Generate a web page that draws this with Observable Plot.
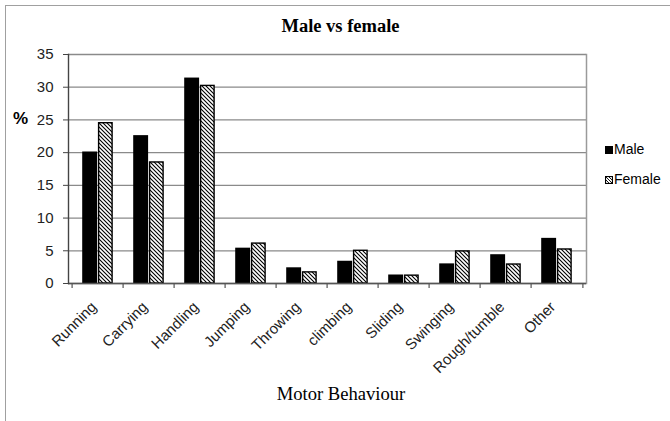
<!DOCTYPE html>
<html>
<head>
<meta charset="utf-8">
<script src="https://cdn.jsdelivr.net/npm/d3@7"></script>
<script src="https://cdn.jsdelivr.net/npm/@observablehq/plot@0.6"></script>
<style>
  html, body { margin: 0; padding: 0; background: #fff; }
  #wrap { position: relative; width: 670px; height: 421px; overflow: hidden; background: #fff; }
  #border { position: absolute; left: 5px; top: 5px; width: 720px; height: 520px; border: 1.5px solid #a0a0a0; box-sizing: border-box; }
  #chart { position: absolute; left: 0; top: 0; }
  .t { position: absolute; white-space: nowrap; color: #000; }
  #title { font-family: "Liberation Serif", "Times New Roman", serif; font-weight: bold; font-size: 18.5px; left: 0; width: 681px; text-align: center; top: 16px; }
  #ylab { font-family: "Liberation Sans", Arial, sans-serif; font-weight: bold; font-size: 17px; left: 13px; top: 109px; }
  #xlab { font-family: "Liberation Serif", "Times New Roman", serif; font-size: 18.6px; left: 0; width: 682px; text-align: center; top: 383px; }
  .leg { font-family: "Liberation Sans", Arial, sans-serif; font-size: 14px; left: 605px; display: flex; align-items: flex-end; }
  .sw { width: 8px; height: 8px; box-sizing: border-box; margin-bottom: 3px; margin-right: 1px; }
</style>
</head>
<body>
<div id="wrap">
  <div id="border"></div>
  <div id="chart"></div>
  <div class="t" id="title">Male vs female</div>
  <div class="t" id="ylab">%</div>
  <div class="t" id="xlab">Motor Behaviour</div>
  <div class="t leg" style="top:141px"><svg class="sw" width="8" height="8"><rect width="8" height="8" fill="#000"/></svg>Male</div>
  <div class="t leg" style="top:171px"><svg class="sw" width="8" height="8"><defs><pattern id="hatchL" patternUnits="userSpaceOnUse" width="3" height="3"><path d="M-1,-1L4,4M-1,2L1,4M2,-1L4,1" stroke="#000" stroke-width="0.9"/></pattern></defs><rect x="0.5" y="0.5" width="7" height="7" fill="url(#hatchL)" stroke="#000" stroke-width="1.2"/></svg>Female</div>
</div>
<script>
const categories = ["Running", "Carrying", "Handling", "Jumping", "Throwing", "climbing", "Sliding", "Swinging", "Rough/tumble", "Other"];
const maleValues = [20.1, 22.6, 31.4, 5.4, 2.4, 3.4, 1.3, 3.0, 4.4, 6.9];
const femaleValues = [24.5, 18.5, 30.2, 6.1, 1.7, 5.0, 1.2, 4.9, 2.9, 5.2];
const yTicks = [0, 5, 10, 15, 20, 25, 30, 35];

const male = categories.map((c, i) => ({cat: c, value: maleValues[i]}));
const female = categories.map((c, i) => ({cat: c, value: femaleValues[i]}));

const W = 670, H = 421;
const mL = 68, mR = 84, mT = 54, mB = 138;
const bw = (W - mL - mR) / categories.length;
const gap = 10.2;

const plot = Plot.plot({
  width: W,
  height: H,
  marginLeft: mL,
  marginRight: mR,
  marginTop: mT,
  marginBottom: mB,
  style: {fontFamily: "'Liberation Sans', Arial, sans-serif", background: "transparent", overflow: "visible"},
  x: {domain: categories, padding: 0, label: null},
  y: {domain: [0, 35], label: null},
  marks: [
    Plot.gridY(yTicks, {stroke: "#8a8a8a", strokeOpacity: 1, strokeWidth: 1.3}),
    Plot.frame({anchor: "right", stroke: "#9a9a9a", strokeWidth: 1.5}),
    Plot.barY(male, {x: "cat", y: "value", fill: "#000", insetLeft: gap, insetRight: bw / 2}),
    Plot.barY(female, {x: "cat", y: "value", fill: "url(#hatch)", stroke: "#000", strokeWidth: 1.4, insetLeft: bw / 2 + 0.7, insetRight: gap + 0.7}),
    Plot.ruleY([0], {stroke: "#555", strokeWidth: 1.4}),
    Plot.frame({anchor: "left", stroke: "#444", strokeWidth: 1.4}),
    Plot.ruleX(categories, {x: d => d, dx: -bw / 2, y1: 0, y2: 0, insetTop: 5, stroke: "#555", strokeWidth: 1.2}),
    Plot.ruleX(categories.slice(-1), {x: d => d, dx: bw / 2, y1: 0, y2: 0, insetTop: 5, stroke: "#555", strokeWidth: 1.2}),
    Plot.axisY({ticks: yTicks, tickSize: 5, tickPadding: 10, fontSize: 15, stroke: "#444", fill: "#222"}),
    Plot.axisX({tickSize: 0, tickRotate: -45, tickPadding: 21, fontSize: 15, fill: "#222", dx: -4})
  ]
});

d3.select(plot).insert("defs", ":first-child").html(
  '<pattern id="hatch" patternUnits="userSpaceOnUse" width="4" height="4">' +
  '<rect width="4" height="4" fill="#fff"/>' +
  '<path d="M-1,-1L5,5M-1,3L1,5M3,-1L5,1" stroke="#000" stroke-width="1.1"/></pattern>'
);

document.getElementById("chart").appendChild(plot);
</script>
</body>
</html>
